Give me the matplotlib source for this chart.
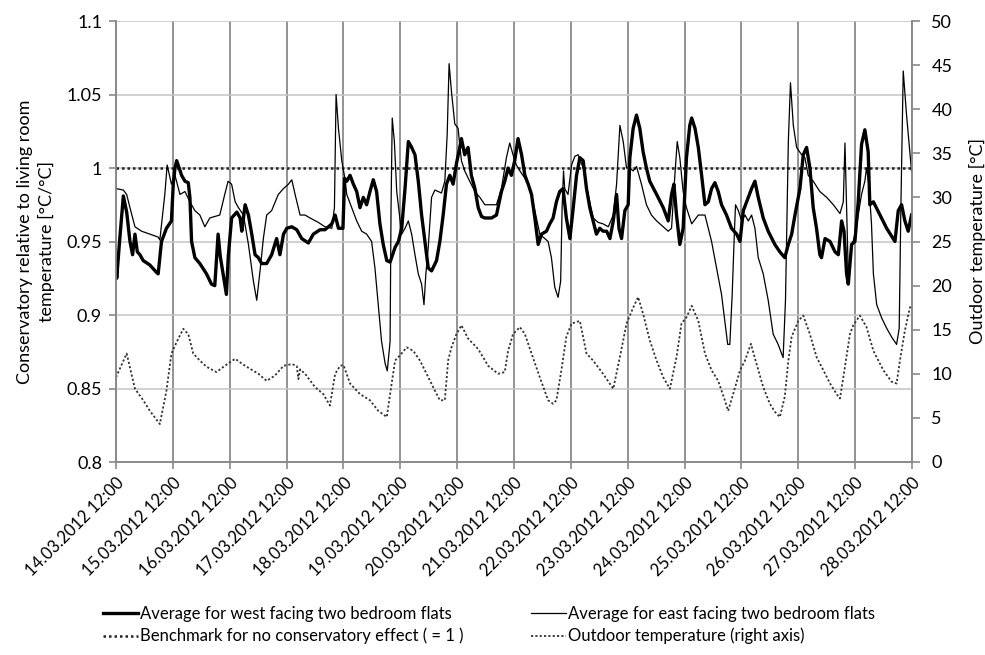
import matplotlib
matplotlib.use("Agg")
import matplotlib.pyplot as plt

plt.rcParams['font.family'] = ['Lato', 'DejaVu Sans']

# hours after 14.03.2012 12:00, ratio [degC/degC]
west = [
    (0, 0.938), (0.3, 0.925), (1.5, 0.950), (3.1, 0.981), (4.5, 0.970), (5.9, 0.950), (7.0, 0.941),
    (8.0, 0.955), (9.0, 0.943), (10.1, 0.941), (11.5, 0.937), (14.3, 0.934), (17.1, 0.929),
    (17.8, 0.928), (19.2, 0.950), (21.3, 0.959), (23.4, 0.964), (24.2, 0.990), (24.9, 1.000),
    (25.6, 1.005), (27.7, 0.995), (29.1, 0.991), (30.5, 0.990), (31.2, 0.980), (31.9, 0.950),
    (33.3, 0.939), (35.4, 0.935), (38.2, 0.928), (40.3, 0.921), (41.7, 0.920), (43.1, 0.955),
    (44.0, 0.940), (45.2, 0.928), (46.6, 0.914), (47.4, 0.940), (48.8, 0.966), (51.0, 0.970),
    (52.4, 0.966), (53.1, 0.957), (54.5, 0.975), (55.9, 0.968), (57.3, 0.955), (58.7, 0.941),
    (60.1, 0.939), (61.5, 0.935), (63.6, 0.935), (65.7, 0.941), (67.8, 0.952), (69.2, 0.941),
    (70.7, 0.955), (72.1, 0.959), (74.2, 0.960), (76.3, 0.958), (78.4, 0.952), (81.2, 0.949),
    (83.3, 0.955), (86.1, 0.958), (88.2, 0.958), (91.1, 0.962), (92.5, 0.968), (93.9, 0.959),
    (95.8, 0.959), (96.5, 0.993), (97.4, 0.991), (98.8, 0.995), (100.2, 0.989), (101.6, 0.984),
    (103.0, 0.973), (104.4, 0.980), (105.8, 0.975), (107.2, 0.984), (108.6, 0.992), (110.0, 0.984),
    (111.4, 0.962), (112.8, 0.948), (114.3, 0.937), (115.7, 0.936), (117.8, 0.946), (119.2, 0.950),
    (120.6, 0.959), (122.0, 0.986), (123.4, 1.018), (124.8, 1.014), (126.2, 1.009), (127.6, 0.991),
    (129.0, 0.968), (130.4, 0.950), (131.8, 0.932), (133.2, 0.930), (135.3, 0.937), (136.7, 0.950),
    (138.1, 0.968), (139.5, 0.989), (140.9, 0.995), (142.3, 0.989), (143.7, 1.003), (145.1, 1.014),
    (145.8, 1.020), (147.2, 1.009), (148.6, 1.014), (150.0, 0.995), (151.5, 0.986), (152.9, 0.973),
    (154.3, 0.967), (155.7, 0.966), (158.5, 0.966), (160.6, 0.968), (162.7, 0.984), (164.1, 0.991),
    (165.5, 1.000), (166.9, 0.995), (168.3, 1.005), (169.7, 1.020), (171.2, 1.009), (172.6, 0.995),
    (174.0, 0.989), (175.4, 0.982), (176.8, 0.966), (178.2, 0.948), (179.6, 0.955), (181.7, 0.957),
    (183.1, 0.962), (184.5, 0.966), (185.9, 0.977), (187.3, 0.984), (188.7, 0.986), (190.1, 0.966),
    (191.6, 0.952), (193.0, 0.973), (194.4, 0.995), (195.8, 1.007), (197.2, 1.005), (198.6, 0.986),
    (200.0, 0.973), (201.4, 0.964), (202.8, 0.955), (204.2, 0.959), (205.6, 0.957), (207.1, 0.957),
    (208.5, 0.952), (209.9, 0.964), (211.3, 0.982), (212.3, 0.959), (213.4, 0.952), (214.8, 0.971),
    (216.2, 0.975), (216.9, 1.007), (218.3, 1.027), (219.7, 1.036), (221.1, 1.027), (222.5, 1.011),
    (223.9, 1.000), (225.3, 0.991), (228.2, 0.982), (231.0, 0.973), (233.1, 0.964), (234.5, 0.982),
    (235.5, 0.989), (236.6, 0.968), (238.0, 0.948), (239.4, 0.959), (240.8, 1.007), (242.2, 1.029),
    (243.0, 1.034), (244.4, 1.027), (245.8, 1.014), (247.2, 0.995), (248.6, 0.975), (250.0, 0.977),
    (251.4, 0.986), (252.8, 0.990), (254.2, 0.984), (255.6, 0.975), (257.7, 0.968), (259.8, 0.959),
    (262.0, 0.955), (263.4, 0.950), (264.8, 0.971), (266.2, 0.977), (268.3, 0.986), (269.7, 0.991),
    (271.1, 0.980), (273.2, 0.966), (275.3, 0.957), (278.1, 0.948), (280.2, 0.943), (282.3, 0.939),
    (283.8, 0.948), (285.2, 0.955), (286.6, 0.968), (288.7, 0.986), (290.1, 1.009), (291.5, 1.014),
    (292.9, 1.000), (294.3, 0.973), (295.7, 0.959), (297.1, 0.941), (297.8, 0.939), (299.3, 0.952),
    (301.4, 0.950), (303.5, 0.943), (304.9, 0.941), (306.3, 0.964), (307.3, 0.957), (308.4, 0.928),
    (309.1, 0.921), (310.5, 0.948), (311.9, 0.950), (313.3, 0.977), (314.7, 1.016), (316.1, 1.026),
    (317.5, 1.011), (318.2, 0.975), (319.7, 0.977), (322.5, 0.968), (325.3, 0.959), (328.8, 0.950),
    (330.2, 0.971), (331.6, 0.975), (333.0, 0.964), (334.4, 0.957), (335.8, 0.968),
]

east = [
    (0, 0.986), (3.1, 0.985), (4.5, 0.982), (5.9, 0.973), (8.0, 0.960), (10.8, 0.957), (14.3, 0.955),
    (17.8, 0.953), (18.5, 0.951), (20.6, 0.982), (21.6, 1.002), (23.4, 0.989), (24.9, 0.995),
    (27.0, 0.982), (29.1, 0.984), (31.2, 0.977), (33.3, 0.971), (35.4, 0.968), (37.5, 0.960),
    (39.6, 0.966), (43.8, 0.968), (45.9, 0.982), (47.3, 0.991), (48.8, 0.989), (50.3, 0.977),
    (51.7, 0.973), (53.8, 0.968), (55.9, 0.948), (58.0, 0.923), (59.4, 0.910), (60.8, 0.930),
    (62.2, 0.952), (63.6, 0.968), (65.7, 0.971), (68.5, 0.982), (70.7, 0.986), (72.8, 0.989),
    (74.2, 0.992), (75.6, 0.982), (77.7, 0.968), (79.8, 0.968), (81.9, 0.966), (85.4, 0.963),
    (88.2, 0.960), (91.1, 0.959), (92.2, 0.973), (92.9, 1.050), (93.9, 1.027), (95.3, 1.005),
    (96.7, 0.992), (97.4, 0.982), (99.5, 0.973), (101.6, 0.964), (103.7, 0.957), (105.8, 0.955),
    (107.9, 0.950), (109.3, 0.932), (110.7, 0.907), (112.1, 0.882), (113.6, 0.867), (114.5, 0.862),
    (115.7, 0.882), (116.1, 0.973), (116.6, 1.034), (117.5, 1.018), (118.5, 0.984), (119.3, 0.973),
    (120.6, 0.955), (122.0, 0.959), (123.4, 0.964), (124.8, 0.955), (126.2, 0.941), (127.6, 0.928),
    (129.0, 0.921), (130.0, 0.907), (130.8, 0.928), (131.8, 0.946), (133.2, 0.980), (134.6, 0.985),
    (137.4, 0.983), (138.8, 0.991), (139.8, 1.023), (140.6, 1.071), (141.6, 1.052), (143.0, 1.030),
    (144.4, 1.027), (145.8, 1.005), (147.2, 0.998), (149.3, 0.991), (151.5, 0.984), (153.6, 0.980),
    (155.7, 0.975), (160.6, 0.975), (162.7, 0.986), (164.8, 1.007), (166.2, 1.017), (167.6, 1.009),
    (169.0, 1.002), (170.5, 0.998), (172.6, 0.993), (174.7, 0.986), (176.8, 0.971), (178.9, 0.955),
    (181.0, 0.952), (182.4, 0.950), (183.8, 0.939), (185.2, 0.919), (186.6, 0.912), (187.7, 0.923),
    (188.3, 0.973), (188.9, 0.998), (189.4, 0.986), (190.8, 0.982), (192.3, 1.002), (193.7, 1.008),
    (195.1, 1.009), (197.2, 1.000), (199.3, 0.982), (201.4, 0.966), (203.5, 0.963), (205.6, 0.962),
    (207.8, 0.960), (209.9, 0.968), (211.3, 0.989), (212.7, 1.029), (214.1, 1.018), (215.5, 1.000),
    (216.9, 1.000), (218.3, 0.998), (219.7, 1.001), (221.8, 0.989), (223.9, 0.975), (226.0, 0.968),
    (228.2, 0.964), (231.0, 0.960), (233.1, 0.957), (234.5, 0.959), (235.9, 0.995), (236.9, 1.018),
    (238.0, 1.007), (239.4, 0.984), (240.8, 0.973), (243.0, 0.962), (245.8, 0.968), (248.6, 0.968),
    (251.4, 0.950), (253.5, 0.932), (255.6, 0.914), (257.0, 0.896), (258.2, 0.880), (259.1, 0.880),
    (260.1, 0.914), (261.0, 0.955), (261.5, 0.975), (262.7, 0.971), (264.1, 0.964), (265.5, 0.968),
    (266.9, 0.964), (268.3, 0.968), (269.7, 0.959), (271.1, 0.939), (273.2, 0.928), (275.3, 0.910),
    (277.4, 0.887), (279.5, 0.880), (281.6, 0.871), (282.6, 0.910), (283.8, 1.018), (284.7, 1.058),
    (285.9, 1.029), (287.3, 1.014), (289.4, 1.009), (290.8, 1.007), (292.2, 0.995), (294.3, 0.991),
    (297.1, 0.984), (300.0, 0.980), (302.8, 0.975), (305.6, 0.969), (307.0, 0.977), (307.7, 1.017),
    (308.4, 0.973), (309.1, 0.928), (310.5, 0.946), (311.9, 0.955), (313.3, 0.968), (314.7, 0.982),
    (316.1, 0.991), (316.8, 1.000), (317.8, 0.989), (318.9, 0.962), (319.7, 0.928), (321.1, 0.907),
    (323.2, 0.898), (325.3, 0.891), (327.4, 0.885), (329.5, 0.880), (330.6, 0.891), (331.3, 0.973),
    (332.3, 1.066), (333.7, 1.036), (335.1, 1.011), (335.8, 0.998),
]

# outdoor temperature [degC]
outdoor = [
    (0, 9.6), (4.5, 12.3), (8.0, 8.3), (11.5, 7.0), (14.3, 5.8), (18.5, 4.3), (21.3, 8.1), (23.4, 12.3),
    (25.6, 13.6), (28.4, 15.1), (30.5, 14.5), (32.6, 12.3), (35.4, 11.5), (38.2, 10.8), (42.4, 10.2),
    (45.9, 10.9), (50.3, 11.7), (54.5, 10.9), (60.1, 10.0), (63.6, 9.2), (67.1, 9.8), (70.7, 10.9),
    (74.2, 11.1), (76.3, 10.9), (77.0, 9.4), (77.7, 10.5), (79.8, 10.0), (84.0, 8.5), (87.5, 7.7),
    (90.3, 6.4), (92.5, 10.0), (94.6, 10.9), (96.0, 11.0), (98.8, 8.9), (103.0, 7.7), (107.2, 7.0),
    (110.7, 5.8), (114.3, 5.1), (115.7, 7.7), (117.8, 11.5), (119.9, 12.1), (122.7, 13.0),
    (125.5, 12.6), (128.3, 11.5), (131.1, 10.0), (134.6, 8.1), (136.7, 7.0), (138.8, 7.0),
    (140.2, 11.5), (141.6, 13.0), (143.7, 14.5), (145.8, 15.5), (148.6, 14.0), (152.9, 12.8),
    (157.1, 10.9), (161.3, 10.0), (164.1, 10.2), (165.5, 12.6), (167.6, 14.5), (170.5, 15.3),
    (172.6, 14.5), (175.4, 12.3), (178.9, 9.6), (182.4, 7.0), (184.5, 6.6), (185.9, 7.0),
    (188.0, 10.4), (190.1, 14.2), (192.3, 15.7), (195.8, 16.0), (198.6, 12.3), (201.4, 11.5),
    (205.6, 10.0), (209.9, 8.3), (212.7, 11.9), (215.5, 15.7), (218.3, 17.5), (220.4, 18.7),
    (222.5, 16.8), (225.3, 13.8), (228.2, 11.5), (231.0, 9.6), (233.8, 8.3), (236.6, 11.9),
    (238.7, 15.7), (240.8, 16.4), (243.0, 17.7), (245.8, 16.0), (248.6, 12.3), (251.4, 10.4),
    (254.2, 9.2), (257.0, 7.0), (258.4, 5.8), (260.5, 7.7), (263.4, 10.4), (265.5, 11.5),
    (268.0, 13.4), (270.4, 11.1), (273.2, 8.5), (276.0, 6.6), (278.1, 5.7), (280.2, 5.1),
    (282.3, 7.4), (283.8, 11.5), (285.2, 14.2), (288.0, 16.0), (290.1, 16.6), (292.9, 14.5),
    (295.7, 11.9), (298.6, 10.4), (301.4, 8.9), (304.2, 7.7), (305.6, 7.2), (307.7, 10.8),
    (309.8, 14.5), (311.2, 15.5), (314.0, 16.6), (316.8, 15.3), (319.7, 12.6), (323.9, 10.4),
    (327.4, 9.1), (329.5, 8.9), (330.9, 11.5), (333.0, 14.9), (335.1, 17.5), (336.0, 17.8),
]

benchmark = 1.0
tick_hours = list(range(0, 337, 24))
tick_labels = ["%02d.03.2012 12:00" % d for d in range(14, 29)]

fig = plt.figure(figsize=(9.85, 6.55), dpi=100)
ax = fig.add_axes([116 / 985, 1 - 462 / 655, 796 / 985, 441 / 655])
ax2 = ax.twinx()

grid_v = '#8a8a8a'
grid_h = '#c4c4c4'
spine_c = '#8a8a8a'

for h in tick_hours:
    ax.axvline(h, color=grid_v, lw=1.3, zorder=0)
for v in [0.85, 0.9, 0.95, 1.0, 1.05, 1.1]:
    ax.axhline(v, color=grid_h, lw=1.1, zorder=0)

wx, wy = zip(*west)
ex, ey = zip(*east)
ox, oy = zip(*outdoor)

l_bench, = ax.plot([tick_hours[0], tick_hours[-1]], [benchmark, benchmark], color='#222222',
                   lw=1.8, linestyle=(0, (1, 1.2)), zorder=3,
                   label='Benchmark for no conservatory effect ( = 1 )')
l_east, = ax.plot(ex, ey, color='black', lw=0.9, zorder=4,
                  label='Average for east facing two bedroom flats')
l_west, = ax.plot(wx, wy, color='black', lw=2.4, zorder=5,
                  label='Average for west facing two bedroom flats')
l_out, = ax2.plot(ox, oy, color='#333333', lw=1.3, linestyle=(0, (1.2, 1.2)),
                  label='Outdoor temperature (right axis)')

ax.set_xlim(0, 336)
ax.set_ylim(0.8, 1.1)
ax2.set_ylim(0, 50)
ax.set_yticks([0.8, 0.85, 0.9, 0.95, 1.0, 1.05, 1.1])
ax.set_yticklabels(['0.8', '0.85', '0.9', '0.95', '1', '1.05', '1.1'])
ax2.set_yticks(range(0, 51, 5))
ax.set_xticks(tick_hours)
ax.set_xticklabels(tick_labels, rotation=45, ha='right', rotation_mode='anchor', fontsize=12)

for a in (ax, ax2):
    a.spines['top'].set_visible(False)
    for s in ('left', 'right', 'bottom'):
        a.spines[s].set_color(spine_c)
        a.spines[s].set_linewidth(1.2)
ax.tick_params(axis='y', labelsize=13, color=spine_c, length=5, width=1.2, pad=5)
ax.tick_params(axis='x', color=spine_c, length=5, width=1.2, pad=4)
ax2.tick_params(axis='y', labelsize=13, color=spine_c, length=6, width=1.2, pad=8)

ax.set_ylabel('Conservatory relative to living room\ntemperature [°C/°C]', fontsize=13,
              linespacing=1.35, labelpad=8)
ax2.set_ylabel('Outdoor temperature [°C]', fontsize=13, labelpad=12)

fig.legend(handles=[l_west, l_bench, l_east, l_out], loc='upper left',
           bbox_to_anchor=(103 / 985, 1 - 606 / 655), ncol=2, frameon=False, fontsize=12,
           handlelength=2.1, handletextpad=0.15, columnspacing=4.0, labelspacing=0.35,
           borderpad=0, borderaxespad=0)

fig.savefig('out.png', dpi=100)
